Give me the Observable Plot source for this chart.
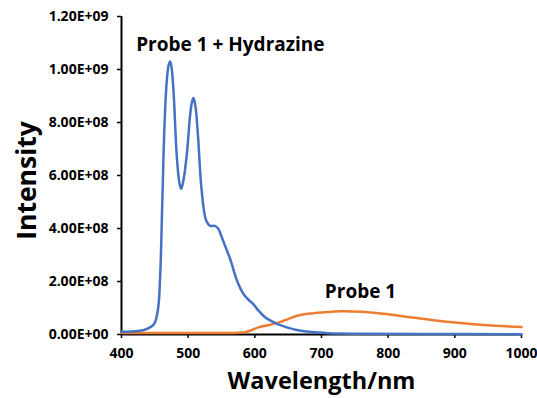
<!DOCTYPE html>
<html>
<head>
<meta charset="utf-8">
<script src="https://cdn.jsdelivr.net/npm/d3@7"></script>
<script src="https://cdn.jsdelivr.net/npm/@observablehq/plot@0.6"></script>
<style>
  html, body { margin: 0; padding: 0; background: #fff; }
  svg { display: block; }
</style>
</head>
<body>
<div id="chart"></div>
<script>
// Probe 1 + Hydrazine (blue)
const blueWl = [400, 420, 435, 445, 450, 455, 458, 461, 464.5, 468, 471, 473, 475, 478, 483, 487, 489.5, 492, 498, 503, 506, 508, 511, 515, 520, 527, 533, 540, 545, 550, 556, 563, 573, 583, 591, 598, 605, 614, 623, 635, 648, 665, 685, 710, 760, 850, 1000];
const blueI  = [0.010, 0.012, 0.018, 0.030, 0.045, 0.10, 0.22, 0.48, 0.79, 0.96, 1.02, 1.03, 1.01, 0.92, 0.67, 0.57, 0.55, 0.57, 0.68, 0.83, 0.88, 0.892, 0.86, 0.74, 0.55, 0.43, 0.41, 0.41, 0.40, 0.37, 0.33, 0.285, 0.205, 0.153, 0.13, 0.114, 0.092, 0.068, 0.053, 0.038, 0.027, 0.016, 0.009, 0.005, 0.003, 0.002, 0.001];
// Probe 1 (orange)
const orangeWl = [400, 450, 500, 550, 575, 585, 595, 605, 620, 635, 650, 665, 680, 700, 730, 760, 793, 830, 868, 905, 943, 1000];
const orangeI  = [0.006, 0.006, 0.006, 0.006, 0.007, 0.009, 0.016, 0.027, 0.035, 0.045, 0.058, 0.072, 0.078, 0.083, 0.088, 0.086, 0.078, 0.066, 0.054, 0.044, 0.036, 0.028];

const xTicks = [400, 500, 600, 700, 800, 900, 1000];
const xTickLabels = ["400", "500", "600", "700", "800", "900", "1000"];
const yTicks = [0, 0.2, 0.4, 0.6, 0.8, 1.0, 1.2];
const yTickLabels = ["0.00E+00", "2.00E+08", "4.00E+08", "6.00E+08", "8.00E+08", "1.00E+09", "1.20E+09"];

const seriesNames = ["Probe 1 + Hydrazine", "Probe 1"];
const labelWl = [422, 705];
const labelI = [1.094, 0.162];

const blue = blueWl.map((w, i) => ({w, v: blueI[i]}));
const orange = orangeWl.map((w, i) => ({w, v: orangeI[i]}));
const labels = seriesNames.map((s, i) => ({s, w: labelWl[i], v: labelI[i]}));
const xt = xTicks.map((t, i) => ({t, s: xTickLabels[i]}));
const yt = yTicks.map((t, i) => ({t, s: yTickLabels[i]}));

const font = "'Open Sans', Lato, sans-serif";

const chart = Plot.plot({
  width: 537,
  height: 398,
  marginLeft: 121,
  marginRight: 16,
  marginTop: 16,
  marginBottom: 64,
  style: {fontFamily: font, background: "#fff", color: "#000"},
  x: {domain: [400, 1000]},
  y: {domain: [0, 1.2]},
  marks: [
    Plot.axisX({ticks: xTicks, tickFormat: () => "", tickSize: 4, strokeWidth: 1.5, label: null}),
    Plot.axisY({ticks: yTicks, tickFormat: () => "", tickSize: 4, strokeWidth: 1.5, label: null}),
    Plot.text(xt, {x: "t", text: "s", frameAnchor: "bottom", lineAnchor: "top", dy: 14, fontSize: 14, fontWeight: "bold", fill: "#000"}),
    Plot.text(yt, {y: "t", text: "s", frameAnchor: "left", textAnchor: "end", dx: -13, fontSize: 14, fontWeight: "bold", fill: "#000"}),
    Plot.ruleX([400], {stroke: "#000", strokeWidth: 2}),
    Plot.ruleY([0], {stroke: "#000", strokeWidth: 2}),
    Plot.line(orange, {x: "w", y: "v", stroke: "#ED7D31", strokeWidth: 2.5, curve: "catmull-rom"}),
    Plot.line(blue, {x: "w", y: "v", stroke: "#4472C4", strokeWidth: 2.5, curve: "catmull-rom"}),
    Plot.text(labels, {x: "w", y: "v", text: "s", textAnchor: "start", fontSize: 19, fontWeight: "bold", fill: "#000"}),
    Plot.text(["Intensity"], {frameAnchor: "left", textAnchor: "middle", rotate: -90, dx: -94, dy: 5, fontSize: 26.5, fontWeight: "bold", fill: "#000"}),
    Plot.text(["Wavelength/nm"], {frameAnchor: "bottom", dy: 54, fontSize: 23.5, fontWeight: "bold", fill: "#000"})
  ]
});
document.getElementById("chart").appendChild(chart);
</script>
</body>
</html>
